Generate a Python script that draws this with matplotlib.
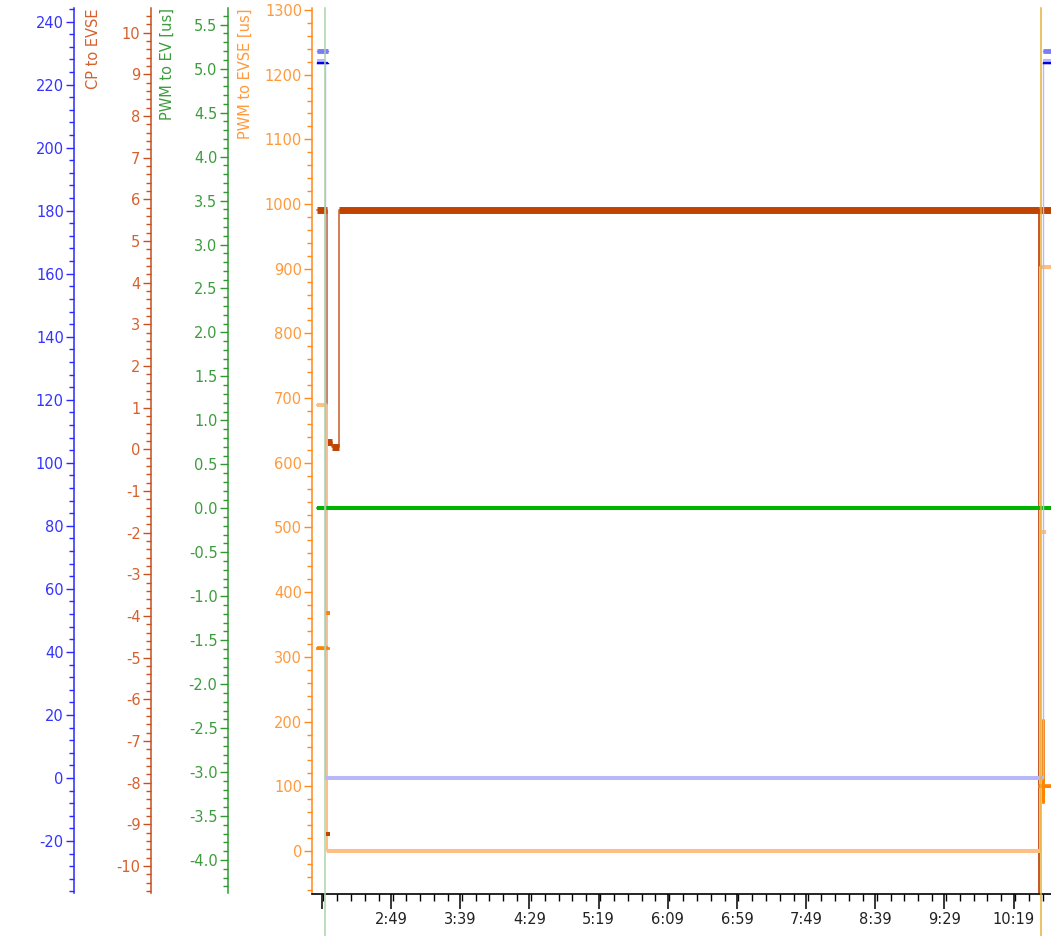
import matplotlib.pyplot as plt
from matplotlib.ticker import MultipleLocator, FixedLocator, FixedFormatter, FormatStrFormatter
import numpy as np

plt.rcParams['font.family'] = ['DejaVu Sans']
plt.rcParams['axes.unicode_minus'] = False

nan = np.nan

# 时间轴 (秒) 与刻度标签
xtick_sec = [119, 169, 219, 269, 319, 369, 419, 469, 519, 569, 619]
xtick_labels = ['', '2:49', '3:39', '4:29', '5:19', '6:09', '6:59', '7:49', '8:39', '9:29', '10:19']
cursor_a = 121.4
cursor_b = 638.7

# PWM 周期 (us) - 深棕色
brown_t = [115.5, 122.8, 122.8, 126.2, 126.2, 131.6, 131.6, 637.6, 637.6, 637.6, 646.0]
brown_v = [991, 991, 632, 632, 625, 625, 991, 991, -80, 991, 991]

# PWM to EVSE (us) - 浅橙色
lorange_t = [115.6, 122.6, 122.6, 638.2, 638.2, 646.0]
lorange_v = [689, 689, 0, 0, 903, 903]

# PWM to EVSE (us) - 橙色
orange_t = [115.6, 123.0, nan, 637.5, 640.2, 640.2, 640.2, 640.2, 646.0]
orange_v = [314, 314, nan, 100, 100, 202, 76, 100, 100]

# 孤立采样点
spike_t = [123.6, 123.6, 640.6]
spike_v = [368, 26, 493]
spike_c = ['#ff8400', '#c04400', '#ffbe82']

# PWM to EV (us) - 绿色
green_t = [115.3, 646.0]
green_v = [0.0, 0.0]

# 电压 - 蓝色系
lblue_t = [115.6, 121.4, 121.4, 640.2, 640.2, 646.0]
lblue_v = [227.5, 227.5, 0, 0, 227.5, 227.5]
mblue_t = [115.6, 123.5, nan, 640.2, 646.0]
mblue_v = [230.5, 230.5, nan, 230.5, 230.5]
dblue_t = [115.6, 123.5, nan, 640.2, 646.0]
dblue_v = [227.0, 227.0, nan, 227.0, 227.0]


def trace(ax, t, v, color, thick, thin, thin_color=None, z=2):
    t = np.asarray(t, float)
    v = np.asarray(v, float)
    ax.plot(t, v, color=thin_color or color, lw=thin, zorder=z)
    for i in range(len(t) - 1):
        if v[i] == v[i + 1]:
            ax.plot(t[i:i + 2], v[i:i + 2], color=color, lw=thick,
                    solid_capstyle='butt', zorder=z)


W, H = 1051, 936
fig = plt.figure(figsize=(W / 100, H / 100), dpi=100)
left_px, right_px, top_px, bot_px = 312.3, 1051, 8, 893
ax = fig.add_axes([left_px / W, 1 - bot_px / H, (right_px - left_px) / W, (bot_px - top_px) / H])
aw = right_px - left_px

c_orange, c_orange_lbl = '#ff8a1c', '#ff9a3c'
c_green, c_green_lbl = '#2e9a2e', '#3c9c3c'
c_red, c_red_lbl = '#c8501e', '#d8602e'
c_blue, c_blue_lbl = '#2828ff', '#3434ff'

ax_g = ax.twinx()
ax_r = ax.twinx()
ax_b = ax.twinx()

axes_cfg = [
    # axis, spine x (px), ylim, major, minor, fmt, color, label color, label, label x (px)
    (ax, left_px, (-65, 1303), 100, 20, '%d', c_orange, c_orange_lbl, 'PWM to EVSE [us]', 253),
    (ax_g, 227.7, (-4.375, 5.69), 0.5, 0.1, '%.1f', c_green, c_green_lbl, 'PWM to EV [us]', 175),
    (ax_r, 150.7, (-10.65, 10.59), 1, 0.2, '%d', c_red, c_red_lbl, 'CP to EVSE', 101),
    (ax_b, 74.0, (-36.5, 244.3), 20, 4, '%d', c_blue, c_blue_lbl, None, None),
]

for a, sx, lim, maj, mnr, fmt, col, lcol, lab, lx in axes_cfg:
    a.set_ylim(*lim)
    for s in ['top', 'right', 'bottom']:
        a.spines[s].set_visible(False)
    a.spines['left'].set_visible(True)
    a.spines['left'].set_position(('axes', (sx - left_px) / aw))
    a.spines['left'].set_color(col)
    a.spines['left'].set_linewidth(1.1)
    a.yaxis.tick_left()
    a.yaxis.set_label_position('left')
    a.yaxis.set_major_locator(MultipleLocator(maj))
    a.yaxis.set_minor_locator(MultipleLocator(mnr))
    a.yaxis.set_major_formatter(FormatStrFormatter(fmt))
    a.tick_params(axis='y', which='major', colors=col, labelcolor=lcol,
                  length=5.8, width=1.0, labelsize=10.5, pad=1.5)
    a.tick_params(axis='y', which='minor', colors=col, length=3.4, width=1.0)
    if lab:
        a.set_ylabel(lab, color=lcol, fontsize=10.5, loc='top')
        a.yaxis.set_label_coords((lx - left_px) / aw, 1.0)

# X 轴
ax.set_xlim(112.0, 646.0)
ax.spines['bottom'].set_visible(True)
ax.spines['bottom'].set_color('black')
ax.spines['bottom'].set_linewidth(1.2)
ax.spines['bottom'].set_position(('outward', 1))
ax.xaxis.set_major_locator(FixedLocator(xtick_sec))
ax.xaxis.set_major_formatter(FixedFormatter(xtick_labels))
ax.xaxis.set_minor_locator(MultipleLocator(10))
ax.tick_params(axis='x', which='major', length=10.5, width=1.1, labelsize=10.5,
               labelcolor='#222222', pad=2)
ax.tick_params(axis='x', which='minor', length=5, width=1.0)

# 曲线
trace(ax, brown_t, brown_v, '#c04400', 5.0, 1.1, '#c65a2a')
trace(ax, lorange_t, lorange_v, '#ffbe82', 2.9, 1.4)
trace(ax, orange_t, orange_v, '#ff8400', 2.6, 2.0)
for t, v, c in zip(spike_t, spike_v, spike_c):
    ax.plot([t], [v], ls='none', marker='s', ms=2.2, mew=0, color=c, zorder=3)
trace(ax_g, green_t, green_v, '#00b400', 2.9, 1.2)
trace(ax_b, lblue_t, lblue_v, '#b8b8f6', 2.9, 1.0)
trace(ax_b, mblue_t, mblue_v, '#7c7cf4', 3.5, 1.0)
trace(ax_b, dblue_t, dblue_v, '#0000e6', 1.6, 1.0)

# 光标
ax_b.axvline(cursor_a, ymin=-0.05, ymax=1.0, color='#a8d4a8', lw=1.1, clip_on=False, zorder=5)
ax_b.axvline(cursor_b, ymin=-0.05, ymax=1.0, color='#e4b23a', lw=1.1, clip_on=False, zorder=5)

fig.savefig('out.png', dpi=100)
